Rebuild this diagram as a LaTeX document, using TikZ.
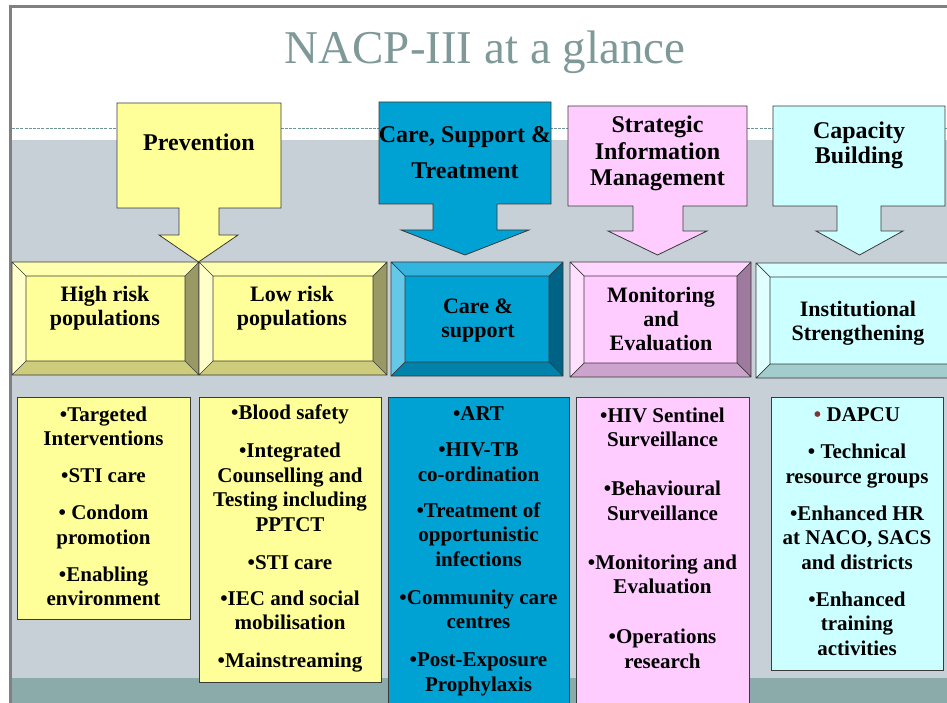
\documentclass[tikz,border=0pt]{standalone}
\usepackage{fontspec}
\setmainfont{Liberation Serif}
\definecolor{bandgray}{HTML}{C6D0D6}
\definecolor{bandteal}{HTML}{8BABAB}
\definecolor{framegray}{HTML}{808080}
\definecolor{titlecol}{HTML}{7F9999}
\definecolor{dashcol}{HTML}{6F9494}
\definecolor{yF}{HTML}{FFFF99}\definecolor{yT}{HTML}{FFFFB0}\definecolor{yL}{HTML}{FFFFCC}\definecolor{yR}{HTML}{999966}\definecolor{yB}{HTML}{CCCC7C}
\definecolor{bF}{HTML}{00A2D3}\definecolor{bT}{HTML}{33B5E0}\definecolor{bL}{HTML}{66C8E8}\definecolor{bR}{HTML}{006385}\definecolor{bB}{HTML}{0082AB}
\definecolor{pF}{HTML}{FFCCFF}\definecolor{pT}{HTML}{FFD6FF}\definecolor{pL}{HTML}{FFE0FF}\definecolor{pR}{HTML}{9E7A9E}\definecolor{pB}{HTML}{CCA3CC}
\definecolor{cF}{HTML}{CCFFFF}\definecolor{cT}{HTML}{D6FFFF}\definecolor{cL}{HTML}{E0FFFF}\definecolor{cR}{HTML}{7A9999}\definecolor{cB}{HTML}{A3CCCC}
\definecolor{dapcu}{HTML}{7F3333}
\definecolor{edge}{HTML}{3A3A3A}
\newcommand\bevelbox[5]{%
  \fill[#5L] (#1,#2) -- ({#1+14},{#2+14}) -- ({#1+14},{#4-14}) -- (#1,#4) -- cycle;
  \fill[#5T] (#1,#2) -- (#3,#2) -- ({#3-14},{#2+14}) -- ({#1+14},{#2+14}) -- cycle;
  \fill[#5R] (#3,#2) -- (#3,#4) -- ({#3-14},{#4-14}) -- ({#3-14},{#2+14}) -- cycle;
  \fill[#5B] (#1,#4) -- (#3,#4) -- ({#3-14},{#4-14}) -- ({#1+14},{#4-14}) -- cycle;
  \fill[#5F] ({#1+14},{#2+14}) rectangle ({#3-14},{#4-14});
  \draw[bev] (#1,#2) rectangle (#3,#4) ({#1+14},{#2+14}) rectangle ({#3-14},{#4-14})
    (#1,#2) -- ({#1+14},{#2+14}) (#3,#2) -- ({#3-14},{#2+14})
    (#1,#4) -- ({#1+14},{#4-14}) (#3,#4) -- ({#3-14},{#4-14});
}
% x1 y1 x2 y2 stemL stemR wingY wingL wingR ; tip y from \tipy, fill colour from \callfill
\newcommand\callout[9]{%
  \filldraw[calloutline, fill=\callfill] (#1,#2) -- (#3,#2) -- (#3,#4) -- (#6,#4) -- (#6,#7) -- (#9,#7)
    -- ({(#8+#9)/2},\tipy) -- (#8,#7) -- (#5,#7) -- (#5,#4) -- (#1,#4) -- cycle;
}
\tikzset{
  calloutline/.style={draw=edge, line width=0.8pt},
  bev/.style={draw=edge, line width=0.7pt},
  listbox/.style={draw=edge, line width=0.8pt},
  headtxt/.style={inner sep=0pt, align=center, anchor=north, font=\bfseries\fontsize{24}{26.5}\selectfont},
  bevtxt/.style={inner sep=0pt, align=center, anchor=north, font=\bfseries\fontsize{22}{24}\selectfont},
  bodytxt/.style={inner sep=0pt, align=center, anchor=north, font=\bfseries\fontsize{21}{24.5}\selectfont},
}
\newcommand\gap{\\[12.5pt]}
\newcommand\biggap{\\[24.5pt]}
\begin{document}
\begin{tikzpicture}[x=1pt,y=-1pt]
\useasboundingbox (0,0) rectangle (947,703);
\begin{scope}
\clip (0,0) rectangle (947,703);
\fill[white] (0,0) rectangle (947,703);
% background bands
\fill[bandgray] (12,140) rectangle (947,678);
\fill[bandteal] (12,678) rectangle (947,703);
\draw[dashcol, line width=0.7pt, dash pattern=on 3pt off 1.2pt] (12,128) -- (947,128);
% frame
\draw[framegray, line width=3pt] (9,6.5) -- (947,6.5);
\draw[framegray, line width=3pt] (10.5,5) -- (10.5,703);

% arrow callouts
\def\tipy{262}\def\callfill{yF}
\callout{117}{103}{281}{208}{179}{219}{235}{159}{238}
\def\tipy{255}\def\callfill{bF}
\callout{379}{102}{551}{204}{433}{497}{230}{401}{529}
\def\callfill{pF}
\callout{568}{106}{747}{206}{633}{683}{231}{608}{707}
\def\callfill{cF}
\callout{773}{106}{945}{206}{837}{881}{231}{816}{903}

% bevel boxes
\bevelbox{12}{262}{199}{375}{y}
\bevelbox{199}{262}{387}{375}{y}
\bevelbox{391}{262}{563}{376}{b}
\bevelbox{570}{262}{751}{377}{p}
\bevelbox{756}{263}{965}{378}{c}

% list boxes
\filldraw[listbox, fill=yF] (17,397) rectangle (190,619);
\filldraw[listbox, fill=yF] (199,397) rectangle (381,682);
\filldraw[listbox, fill=bF] (388,397) rectangle (569,710);
\filldraw[listbox, fill=pF] (576,397) rectangle (749,710);
\filldraw[listbox, fill=cF] (771,397) rectangle (943,670);
\end{scope}

% title
\node[anchor=base, inner sep=0pt, text=titlecol, font=\fontsize{47}{50}\selectfont] (title) at (485,64) {NACP-III at a glance};

% headings
\node[headtxt] (prev) at (199,134) {Prevention};
\node[headtxt, font=\bfseries\fontsize{24}{36}\selectfont] (cst) at (465,126) {Care, Support \&\\Treatment};
\node[headtxt] (sim) at (657.5,116) {Strategic\\Information\\Management};
\node[headtxt, font=\bfseries\fontsize{24}{24.5}\selectfont] (cb) at (859,122) {Capacity\\Building};

% bevel texts
\node[bevtxt] (hrp) at (105,286) {High risk\\populations};
\node[bevtxt] (lrp) at (292,286) {Low risk\\populations};
\node[bevtxt] (cas) at (478,299) {Care \&\\support};
\node[bevtxt] (mae) at (661,287) {Monitoring\\and\\Evaluation};
\node[bevtxt] (ist) at (858,301) {Institutional\\Strengthening};

% list texts
\node[bodytxt] (l1) at (103.5,406.7) {•Targeted\\Interventions\gap •STI care\gap • Condom\\promotion\gap •Enabling\\environment};
\node[bodytxt] (l2) at (290,404.7) {•Blood safety\\[13.5pt]•Integrated\\Counselling and\\Testing including\\PPTCT\\[13.5pt]•STI care\\[11.5pt]•IEC and social\\mobilisation\\[13.5pt]•Mainstreaming};
\node[bodytxt] (l3) at (478.5,406.7) {•ART\\[11.5pt]•HIV-TB\\co-ordination\\[11.5pt]•Treatment of\\opportunistic\\infections\\[13.5pt]•Community care\\centres\\[13.5pt]•Post-Exposure\\Prophylaxis};
\node[bodytxt] (l4) at (662.5,407.7) {•HIV Sentinel\\Surveillance\biggap •Behavioural\\Surveillance\biggap •Monitoring and\\Evaluation\\[25.5pt]•Operations\\research};
\node[bodytxt] (l5) at (857,407.7) {{\color{dapcu}•} DAPCU\gap • Technical\\resource groups\gap •Enhanced HR\\at NACO, SACS\\and districts\gap •Enhanced\\training\\activities};
\end{tikzpicture}
\end{document}
